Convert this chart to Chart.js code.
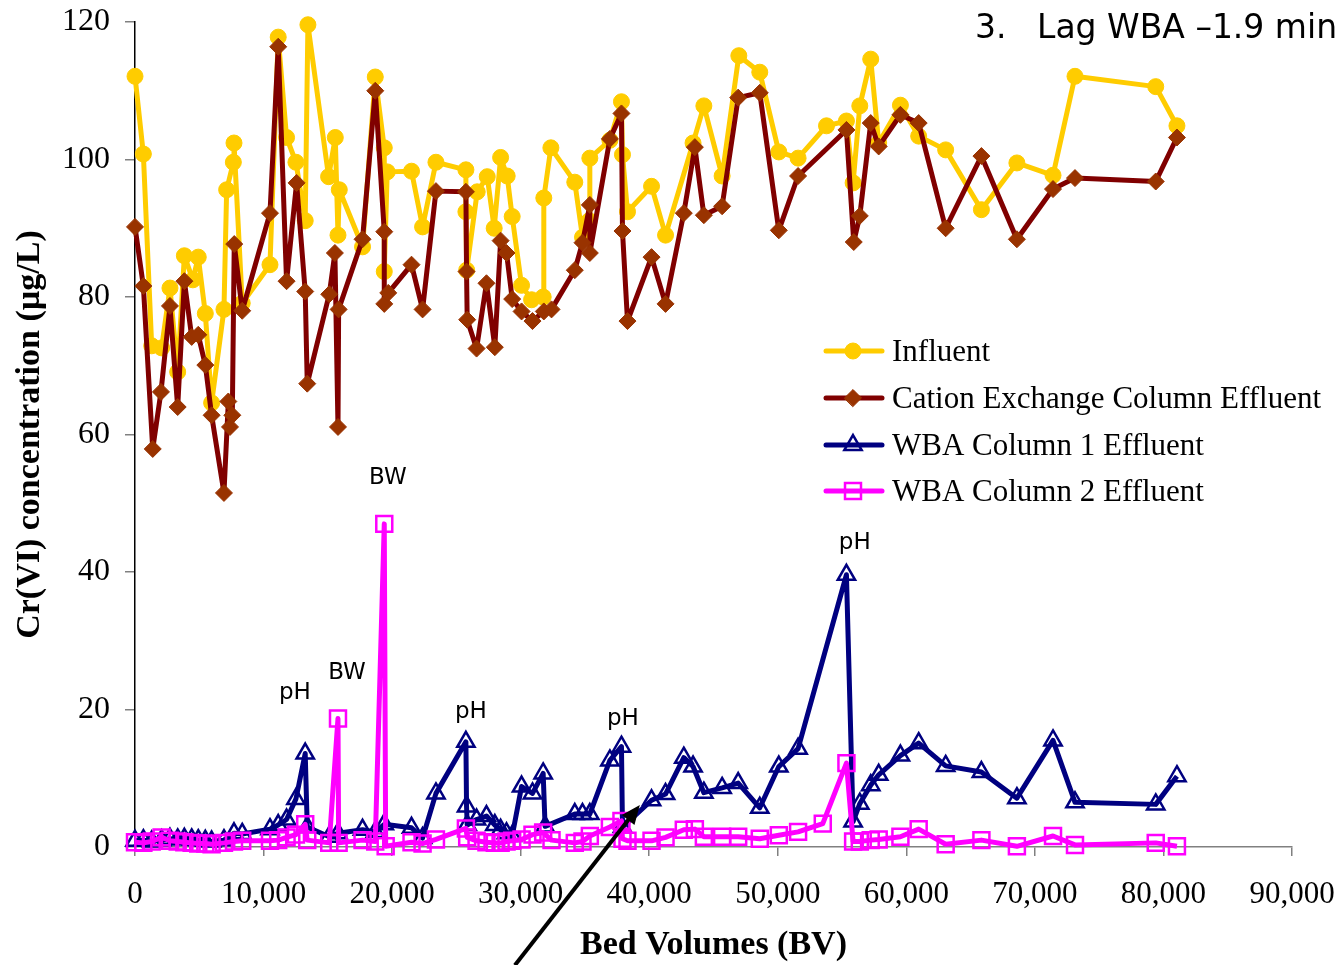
<!DOCTYPE html>
<html>
<head>
<meta charset="utf-8">
<script src="https://cdn.jsdelivr.net/npm/chart.js@4/dist/chart.umd.min.js"></script>
<style>
  html, body { margin: 0; padding: 0; background: #ffffff; }
  canvas { display: block; }
</style>
</head>
<body>
<canvas id="chart" width="1339" height="965"></canvas>
<script>
// Bed volumes (BV) and Cr(VI) concentrations (µg/L) for each sampling point

const bvInfluent = [0, 650, 1300, 2070, 2720, 3320, 3840, 4500, 4920, 5470, 5960, 6920, 7130, 7650, 7700, 8340,
  10500, 11140, 11790, 12520, 13240, 13450, 15060, 15580, 15790, 15890, 17700, 18690, 19390, 19390, 19620,
  21510, 22370, 23410, 25740, 25740, 25800, 26620, 27400, 27940, 28440, 28950, 29340, 30070, 30850, 31750,
  31800, 32350, 34210, 34810, 35330, 35380, 36940, 37840, 37920, 38310, 40180, 41270, 43410, 44250, 45670,
  46970, 48600, 50080, 51580, 53790, 55340, 55860, 56380, 57230, 57850, 59540, 60960, 63060, 65840, 68600,
  71410, 73120, 79400, 81050];
const influent = [112.1, 100.8, 72.9, 72.6, 81.3, 69.1, 86.0, 82.5, 85.8, 77.6, 64.6, 78.2, 95.6, 99.6, 102.4, 79.1,
  84.7, 117.8, 103.2, 99.6, 91.1, 119.6, 97.5, 103.2, 89.0, 95.6, 87.3, 112.0, 101.7, 83.7, 98.2,
  98.3, 90.2, 99.6, 98.5, 92.4, 83.9, 95.3, 97.5, 90.0, 100.3, 97.6, 91.7, 81.7, 79.6, 80.0,
  94.4, 101.7, 96.7, 88.7, 91.1, 100.2, 102.8, 108.4, 100.7, 92.4, 96.1, 89.0, 102.4, 107.8, 97.6,
  115.1, 112.7, 101.1, 100.2, 104.9, 105.6, 96.6, 107.8, 114.6, 102.4, 107.9, 103.4, 101.4, 92.7, 99.5,
  97.7, 112.1, 110.6, 104.9];

const bvCation = [0, 650, 1380, 2020, 2720, 3320, 3840, 4410, 4920, 5470, 5960, 6920, 7260, 7390, 7570, 7720, 8340,
  10500, 11140, 11790, 12570, 13240, 13400, 15110, 15550, 15790, 15840, 17700, 18690, 19390, 19390, 19700,
  21510, 22370, 23410, 25740, 25790, 25840, 26570, 27340, 27990, 28440, 28900, 29340, 30070, 30920, 31800,
  32400, 34210, 34810, 35380, 35380, 36940, 37840, 37920, 38310, 40180, 41270, 42690, 43550, 44250, 45670,
  46920, 48600, 50080, 51580, 55340, 55910, 56380, 57230, 57850, 59540, 60960, 63060, 65840, 68600, 71410,
  73120, 79400, 81050];
const cation = [90.2, 81.6, 57.9, 66.2, 78.7, 64.0, 82.3, 74.2, 74.5, 70.1, 62.8, 51.5, 64.8, 61.1, 62.8, 87.7, 78.0,
  92.2, 116.4, 82.3, 96.6, 80.8, 67.4, 80.4, 86.4, 61.1, 78.2, 88.4, 110.0, 89.5, 79.0, 80.6,
  84.7, 78.2, 95.4, 95.3, 83.7, 76.7, 72.5, 82.0, 72.7, 88.2, 86.4, 79.7, 77.9, 76.5, 77.9,
  78.2, 83.9, 87.9, 93.4, 86.4, 103.0, 106.7, 89.6, 76.5, 85.8, 79.0, 92.2, 101.8, 91.9, 93.2,
  109.0, 109.7, 89.7, 97.6, 104.3, 88.0, 91.8, 105.3, 101.9, 106.5, 105.3, 90.0, 100.5, 88.4, 95.7,
  97.3, 96.8, 103.2];

const bvWba1 = [0, 650, 1300, 2070, 2720, 3320, 3840, 4410, 4920, 5470, 5960, 6920, 7700, 8340,
  10500, 11140, 11790, 12520, 13240, 13400, 15110, 15790, 17700, 18690, 19390, 21510, 22370, 23410,
  25740, 25790, 25840, 26570, 27340, 27990, 28440, 28900, 29340, 30070, 30920, 31750, 31900, 34210,
  34810, 35380, 36940, 37840, 37920, 40180, 41270, 42690, 43410, 44250, 45670, 46920, 48600, 50080,
  51580, 55340, 55860, 56380, 57230, 57850, 59540, 60960, 63060, 65840, 68600, 71410, 73120, 79400, 81050];
const wba1 = [0.9, 1.0, 0.8, 1.0, 1.2, 1.1, 1.2, 1.1, 1.0, 0.9, 0.8, 1.0, 2.0, 1.9,
  2.6, 3.2, 4.0, 7.0, 13.6, 2.9, 1.5, 2.0, 2.5, 2.2, 3.3, 2.8, 1.3, 7.8,
  15.3, 5.9, 3.2, 4.0, 4.5, 3.2, 2.5, 2.0, 1.6, 8.8, 7.8, 10.7, 3.0, 4.8,
  4.8, 4.8, 12.6, 14.6, 2.9, 6.8, 7.7, 13.0, 11.7, 7.9, 8.6, 9.3, 5.7, 11.7,
  14.3, 39.6, 3.7, 6.3, 9.0, 10.5, 13.3, 15.1, 11.8, 10.9, 7.1, 15.5, 6.5, 6.2, 10.3];

const bvWba2 = [0, 650, 1300, 2070, 2720, 3320, 3840, 4410, 4920, 5470, 5960, 6920, 7700, 8340,
  10500, 11140, 11790, 12520, 13240, 13400, 15110, 15790, 15840, 17700, 18690, 19390, 19500, 21510,
  22370, 23410, 25740, 25840, 26570, 27340, 27990, 28440, 28900, 29340, 30070, 30920, 31750, 32400,
  34210, 34810, 35380, 36940, 37840, 37920, 38310, 40180, 41270, 42690, 43550, 44250, 45670, 46920,
  48600, 50080, 51580, 53500, 55340, 55860, 56380, 57230, 57850, 59540, 60960, 63060, 65840, 68600,
  71410, 73120, 79400, 81050];
const wba2 = [0.7, 0.6, 0.8, 1.4, 0.9, 0.8, 0.7, 0.6, 0.5, 0.5, 0.4, 0.6, 0.8, 0.9,
  0.9, 1.0, 1.4, 1.8, 3.3, 1.0, 0.6, 18.7, 0.6, 1.0, 0.8, 47.0, 0.1, 0.7,
  0.5, 1.1, 2.7, 1.4, 0.9, 0.7, 0.6, 0.6, 0.8, 0.9, 1.1, 1.8, 2.1, 1.0,
  0.6, 0.8, 1.6, 2.9, 3.8, 1.2, 0.9, 0.9, 1.4, 2.5, 2.6, 1.5, 1.5, 1.5,
  1.2, 1.7, 2.2, 3.4, 12.2, 0.8, 0.8, 1.0, 1.1, 1.5, 2.6, 0.4, 1.0, 0.1,
  1.6, 0.3, 0.6, 0.1];

// Event notes (pH adjustment / backwash) placed in data units
const noteText = ['pH', 'BW', 'BW', 'pH', 'pH', 'pH'];
const noteBV = [12440, 16490, 19670, 26130, 37950, 55990];
const noteLevel = [22.4, 25.3, 53.7, 19.6, 18.6, 44.2];

// Pointer arrow, tail and tip in data units
const arrowTail = [29550, -17.2];
const arrowTip = [39270, 6.1];

const xTickValues = [0, 10000, 20000, 30000, 40000, 50000, 60000, 70000, 80000, 90000];
const yTickValues = [0, 20, 40, 60, 80, 100, 120];

const seriesNames = ['Influent', 'Cation Exchange Column Effluent', 'WBA Column 1 Effluent', 'WBA Column 2 Effluent'];

function toPoints(xs, ys) {
  return xs.map((x, i) => ({ x: x, y: ys[i] }));
}

const serif = '"Liberation Serif", "Times New Roman", serif';
const sans = '"DejaVu Sans", Tahoma, Verdana, sans-serif';

// Marker drawing shared by the legend
function drawMarker(ctx, style, x, y) {
  ctx.save();
  ctx.fillStyle = style.fill;
  ctx.strokeStyle = style.stroke;
  ctx.lineWidth = style.borderWidth;
  Chart.helpers.drawPoint(ctx, { pointStyle: style.pointStyle, radius: style.radius, borderWidth: style.borderWidth, rotation: 0 }, x, y);
  ctx.restore();
}

const decorations = {
  id: 'decorations',
  afterDatasetsDraw(chart) {
    const ctx = chart.ctx;
    const xs = chart.scales.x, ys = chart.scales.y;

    // event notes
    ctx.save();
    ctx.fillStyle = '#000000';
    ctx.font = '23px ' + sans;
    ctx.textAlign = 'center';
    ctx.textBaseline = 'middle';
    noteText.forEach((t, i) => {
      ctx.fillText(t, xs.getPixelForValue(noteBV[i]), ys.getPixelForValue(noteLevel[i]));
    });
    ctx.restore();
  },
  afterDraw(chart) {
    const ctx = chart.ctx;
    const xs = chart.scales.x, ys = chart.scales.y;

    // arrow
    const x0 = xs.getPixelForValue(arrowTail[0]), y0 = ys.getPixelForValue(arrowTail[1]);
    const x1 = xs.getPixelForValue(arrowTip[0]), y1 = ys.getPixelForValue(arrowTip[1]);
    const ang = Math.atan2(y1 - y0, x1 - x0);
    const headLen = 19, headHalf = 8;
    const bx = x1 - Math.cos(ang) * headLen, by = y1 - Math.sin(ang) * headLen;
    ctx.save();
    ctx.strokeStyle = '#000000';
    ctx.fillStyle = '#000000';
    ctx.lineWidth = 4;
    ctx.beginPath();
    ctx.moveTo(x0, y0);
    ctx.lineTo(bx + Math.cos(ang) * 2, by + Math.sin(ang) * 2);
    ctx.stroke();
    ctx.beginPath();
    ctx.moveTo(x1, y1);
    ctx.lineTo(bx - Math.sin(ang) * headHalf, by + Math.cos(ang) * headHalf);
    ctx.lineTo(bx + Math.sin(ang) * headHalf, by - Math.cos(ang) * headHalf);
    ctx.closePath();
    ctx.fill();
    ctx.restore();

    // legend
    const rows = [351, 398, 445, 491];
    ctx.save();
    chart.data.datasets.forEach((ds, i) => {
      const y = rows[i];
      ctx.strokeStyle = ds.borderColor;
      ctx.lineWidth = 5;
      ctx.lineCap = 'round';
      ctx.beginPath();
      ctx.moveTo(826, y);
      ctx.lineTo(882, y);
      ctx.stroke();
      drawMarker(ctx, {
        fill: ds.pointBackgroundColor,
        stroke: ds.pointBorderColor,
        borderWidth: ds.pointBorderWidth,
        pointStyle: ds.pointStyle,
        radius: ds.pointRadius
      }, 853, y);
      ctx.fillStyle = '#000000';
      ctx.font = '31px ' + serif;
      ctx.textAlign = 'left';
      ctx.textBaseline = 'alphabetic';
      ctx.fillText(ds.label, 892, y + 10);
    });
    ctx.restore();

    // heading
    ctx.save();
    ctx.fillStyle = '#000000';
    ctx.font = '33px ' + sans;
    ctx.textBaseline = 'alphabetic';
    ctx.textAlign = 'left';
    ctx.fillText('3.', 975, 38);
    ctx.fillText('Lag WBA \u20131.9 min', 1037, 38);
    ctx.restore();
  }
};

new Chart(document.getElementById('chart'), {
  type: 'line',
  data: {
    datasets: [
      {
        label: seriesNames[0],
        data: toPoints(bvInfluent, influent),
        borderColor: '#FFCC00',
        borderWidth: 5,
        pointStyle: 'circle',
        pointRadius: 8,
        pointBackgroundColor: '#FFCC00',
        pointBorderColor: '#FFCC00',
        pointBorderWidth: 1,
        order: 4
      },
      {
        label: seriesNames[1],
        data: toPoints(bvCation, cation),
        borderColor: '#800000',
        borderWidth: 5,
        pointStyle: 'rectRot',
        pointRadius: 8.5,
        pointBackgroundColor: '#993300',
        pointBorderColor: '#993300',
        pointBorderWidth: 1,
        order: 3
      },
      {
        label: seriesNames[2],
        data: toPoints(bvWba1, wba1),
        borderColor: '#000080',
        borderWidth: 5,
        pointStyle: 'triangle',
        pointRadius: 10,
        pointBackgroundColor: 'rgba(255,255,255,0)',
        pointBorderColor: '#000080',
        pointBorderWidth: 2.5,
        order: 2
      },
      {
        label: seriesNames[3],
        data: toPoints(bvWba2, wba2),
        borderColor: '#FF00FF',
        borderWidth: 5,
        pointStyle: 'rect',
        pointRadius: 11.3,
        pointBackgroundColor: 'rgba(255,255,255,0)',
        pointBorderColor: '#FF00FF',
        pointBorderWidth: 2.5,
        order: 1
      }
    ]
  },
  options: {
    responsive: false,
    animation: false,
    devicePixelRatio: 1,
    clip: false,
    layout: { padding: { top: 22, right: 47, left: 0, bottom: 0 } },
    elements: { line: { tension: 0, borderJoinStyle: 'round' } },
    plugins: {
      legend: { display: false },
      tooltip: { enabled: false }
    },
    scales: {
      x: {
        type: 'linear',
        min: 0,
        max: 90000,
        afterBuildTicks: (scale) => { scale.ticks = xTickValues.map(v => ({ value: v })); },
        afterFit: (scale) => {
          scale.height = 118;
          scale.paddingLeft = 0;
          scale.paddingRight = 0;
        },
        ticks: {
          callback: (v) => v.toLocaleString('en-US'),
          font: { family: serif, size: 31 },
          color: '#000000',
          padding: 20,
          maxRotation: 0,
          autoSkip: false
        },
        grid: { drawOnChartArea: false, drawTicks: true, tickLength: 9, color: '#808080', lineWidth: 1.5 },
        border: { color: '#808080', width: 1.5 },
        title: {
          display: true,
          text: 'Bed Volumes (BV)',
          font: { family: serif, size: 34, weight: 'bold', lineHeight: 1 },
          color: '#000000',
          padding: { top: 0, bottom: 3 }
        }
      },
      y: {
        min: 0,
        max: 120,
        afterBuildTicks: (scale) => { scale.ticks = yTickValues.map(v => ({ value: v })); },
        afterFit: (scale) => {
          scale.width = 135;
          scale.paddingTop = 0;
          scale.paddingBottom = 0;
        },
        ticks: {
          font: { family: serif, size: 32 },
          color: '#000000',
          padding: 15
        },
        grid: { drawOnChartArea: false, drawTicks: true, tickLength: 10, color: '#808080', lineWidth: 1.5 },
        border: { color: '#000000', width: 1.5 },
        title: {
          display: true,
          text: 'Cr(VI) concentration (µg/L)',
          font: { family: serif, size: 34, weight: 'bold', lineHeight: 1 },
          color: '#000000',
          padding: { top: 13, bottom: 0 }
        }
      }
    }
  },
  plugins: [decorations]
});
</script>
</body>
</html>
